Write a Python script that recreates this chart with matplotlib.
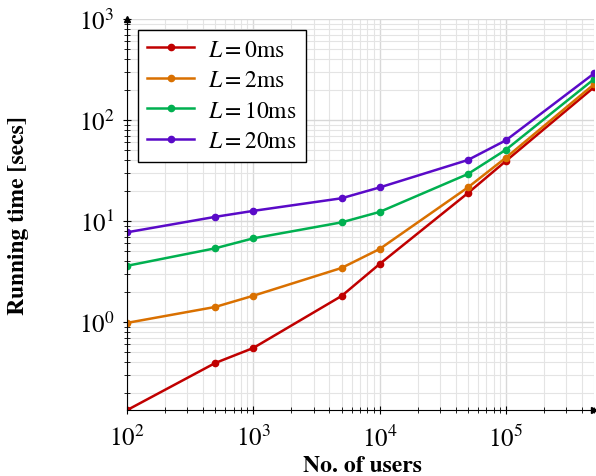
import numpy as np
import matplotlib
matplotlib.use("Agg")
import matplotlib.pyplot as plt

plt.rcParams['font.family'] = ['STIXGeneral', 'DejaVu Serif']
plt.rcParams['mathtext.fontset'] = 'stix'

# number of users
users = [100, 500, 1000, 5000, 10000, 50000, 100000, 500000]

# running time in seconds, one list per latency
t_0ms = [0.134, 0.393, 0.553, 1.81, 3.75, 18.9, 39.3, 212]
t_2ms = [0.98, 1.41, 1.82, 3.43, 5.28, 21.5, 42.4, 227]
t_10ms = [3.6, 5.37, 6.74, 9.7, 12.3, 29.2, 50.8, 255]
t_20ms = [7.73, 11.0, 12.6, 16.8, 21.5, 40.2, 63.0, 290]

labels = [r'$L = 0$ms', r'$L = 2$ms', r'$L = 10$ms', r'$L = 20$ms']
colors = ['#c00000', '#d97000', '#00b050', '#5a0ac8']

fig = plt.figure(figsize=(5.96, 4.77), dpi=100)
ax = fig.add_axes([0.213, 0.138, 0.784, 0.82])

for ys, lab, c in zip([t_0ms, t_2ms, t_10ms, t_20ms], labels, colors):
    ax.plot(users, ys, color=c, marker='o', markersize=4.5, linewidth=1.8, label=lab)

ax.set_xscale('log')
ax.set_yscale('log')
ax.set_xlim(100, 5e5)
ax.set_ylim(t_0ms[0], 1000)

ax.grid(True, which='major', color='#d8d8d8', linewidth=1.0)
ax.grid(True, which='minor', color='#e4e4e4', linewidth=0.8)
ax.set_axisbelow(True)

ax.spines['top'].set_visible(False)
ax.spines['right'].set_visible(False)
ax.tick_params(which='both', direction='inout', labelsize=18)
ax.tick_params(axis='x', which='major', length=6, pad=8)
ax.tick_params(axis='y', which='major', length=6, pad=6)
ax.tick_params(which='minor', length=4)
ax.yaxis.set_major_locator(matplotlib.ticker.LogLocator(base=10, numticks=10))
ax.yaxis.set_major_formatter(matplotlib.ticker.LogFormatterMathtext())
ax.xaxis.set_major_formatter(matplotlib.ticker.LogFormatterMathtext())

# arrow tips on the axes
ax.plot(1, 0, '>k', transform=ax.transAxes, clip_on=False, markersize=5)
ax.plot(0, 1, '^k', transform=ax.transAxes, clip_on=False, markersize=5)

ax.set_xlabel('No. of users', fontsize=17, fontweight='bold')
ax.set_ylabel('Running time [secs]', fontsize=17, fontweight='bold')
ax.xaxis.set_label_coords(0.503, -0.115)
ax.yaxis.set_label_coords(-0.21, 0.5)

leg = ax.legend(loc='upper left', bbox_to_anchor=(0.0, 1.0), borderaxespad=0.45,
                fontsize=17, frameon=True, fancybox=False, edgecolor='black',
                framealpha=1, handlelength=2.0, labelspacing=0.38, borderpad=0.4,
                handletextpad=0.6)
leg.get_frame().set_linewidth(1.0)

fig.savefig('out.png', dpi=100)
